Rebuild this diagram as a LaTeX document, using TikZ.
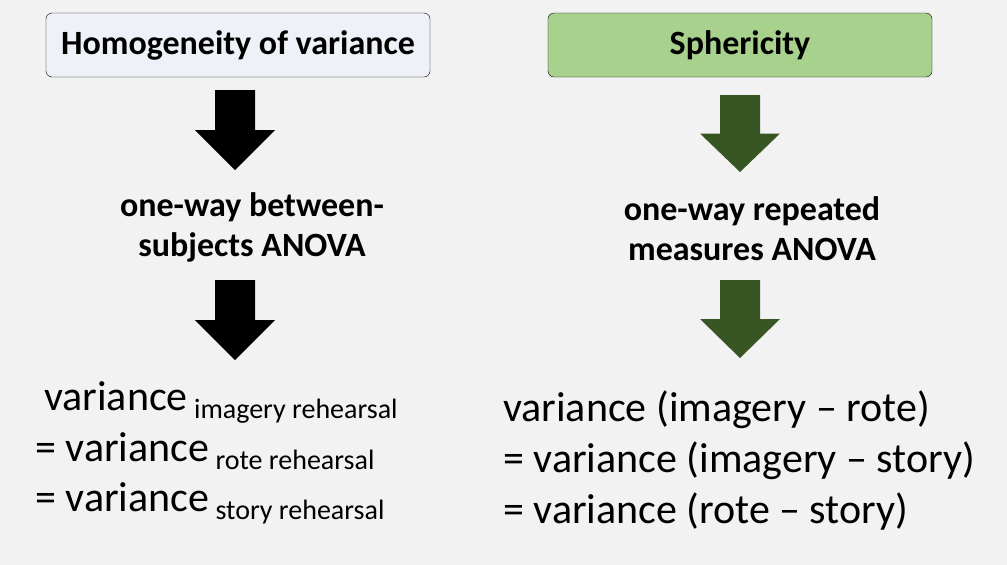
\documentclass[tikz,border=0pt]{standalone}
\usepackage{fontspec}
\setmainfont{Carlito}
\definecolor{bg}{HTML}{F2F2F2}
\definecolor{boxa}{HTML}{EEF1F7}
\definecolor{boxb}{HTML}{A9D18E}
\definecolor{dg}{HTML}{375623}
\begin{document}
\begin{tikzpicture}[x=1pt,y=-1pt,
  box/.style={draw=black,rounded corners=6pt,minimum width=384pt,minimum height=64pt,font=\fontsize{34}{38}\selectfont\bfseries},
  mid/.style={align=center,font=\fontsize{34}{40}\selectfont\bfseries},
  big/.style={anchor=base west,font=\fontsize{42}{46}\selectfont,inner sep=0pt}]
\fill[bg] (0,0) rectangle (1007,565);
\useasboundingbox (0,0) rectangle (1007,565);
\node[box,fill=boxa] (h) at (238,45) {Homogeneity of variance};
\node[box,fill=boxb] (s) at (740,45) {Sphericity};
\newcommand\blockarrow[4]{\fill[#4] (#1-20,#2) -- (#1+20,#2) -- (#1+20,#2+0.5*#3) -- (#1+40,#2+0.5*#3) -- (#1,#2+#3) -- (#1-40,#2+0.5*#3) -- (#1-20,#2+0.5*#3) -- cycle;}
\blockarrow{235}{90}{80}{black}
\blockarrow{235}{280}{80}{black}
\blockarrow{740}{95}{77}{dg}
\blockarrow{740}{280}{78}{dg}
\node[mid] (b) at (252,227) {one-way between-\\subjects ANOVA};
\node[mid] (r) at (752,229) {one-way repeated\\measures ANOVA};
\node[big] (l1) at (44,410) {variance\raisebox{-8pt}{\fontsize{28}{30}\selectfont\ imagery rehearsal}};
\node[big] (l2) at (35,461) {= variance\raisebox{-8pt}{\fontsize{28}{30}\selectfont\ rote rehearsal}};
\node[big] (l3) at (35,511) {= variance\raisebox{-8pt}{\fontsize{28}{30}\selectfont\ story rehearsal}};
\node[big] (r1) at (503,421) {variance (imagery – rote)};
\node[big] (r2) at (503,472) {= variance (imagery – story)};
\node[big] (r3) at (503,523) {= variance (rote – story)};
\end{tikzpicture}
\end{document}
